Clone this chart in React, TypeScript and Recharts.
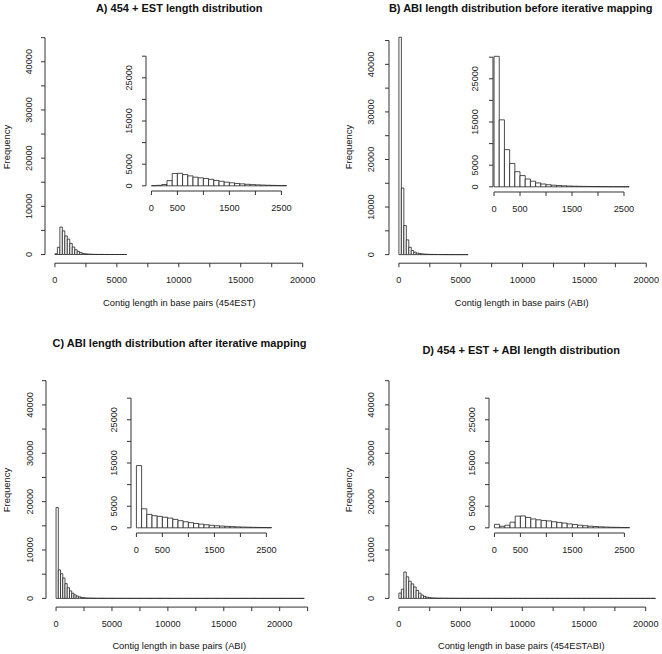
import React from 'react';
import { ComposedChart, XAxis, YAxis, ReferenceArea, ReferenceLine } from 'recharts';

// ---------- data ----------
const MAIN_BIN = 200;
const INSET_BIN = 100;

// A) 454 + EST  (main: 200 bp bins, inset: 100 bp bins)
const mainA = [150, 1500, 5700, 4900, 3850, 3200, 2300, 1550, 1000, 630, 390, 230, 140, 95, 65, 45, 32, 24, 18, 13, 10, 8, 6, 5, 4, 3, 2, 2, 1];
const insetA = [40, 110, 300, 1200, 2850, 2900, 2600, 2300, 2000, 1850, 1700, 1500, 1250, 1050, 850, 700, 550, 450, 350, 280, 220, 170, 130, 100, 80, 60];

// B) ABI before iterative mapping
const mainB = [45700, 14000, 6100, 3100, 1550, 870, 520, 340, 230, 160, 115, 85, 62, 47, 36, 28, 22, 17, 13, 10, 8, 6, 5, 4, 3, 2, 2, 1];
const insetB = [30200, 15500, 8600, 5400, 3500, 2600, 1800, 1300, 900, 650, 480, 370, 290, 230, 180, 140, 115, 95, 78, 62, 50, 40, 32, 25, 20, 16];

// C) ABI after iterative mapping
const mainC = [
  18800, 5900, 5100, 4200, 3050, 2200, 1550, 1060, 730, 490, 325, 205, 130,
  90, 68, 54, 44, 37, 31, 27, 23, 20, 18,
  16, 14, 12, 11, 10, 9, 8, 8, 7, 7,
  6, 6, 5, 5, 5, 4, 4, 4, 4, 3,
  3, 3, 3, 3, 3, 2, 2, 2, 2, 2,
  2, 2, 2, 2, 2, 1, 1, 1, 1, 1,
  1, 1, 1, 1, 1, 1, 1, 1, 1, 1,
  1, 1, 1, 1, 1, 1, 1, 1, 1, 1,
  1, 1, 1, 1, 1, 1, 1, 1, 1, 1,
  1, 1, 1, 1, 1, 1, 1, 1, 1, 1,
  1, 1, 1, 1, 1, 1, 1, 1,
];
const insetC = [14400, 4400, 3100, 2800, 2650, 2450, 2250, 1950, 1650, 1400, 1200, 1000, 850, 700, 580, 480, 400, 330, 270, 220, 180, 145, 115, 90, 72, 58];

// D) 454 + EST + ABI
const mainD = [
  1100, 1900, 5450, 4450, 3550, 3000, 2350, 1650, 1080, 680, 410, 250, 150,
  100, 72, 55, 44, 36, 30, 25, 21, 18, 16,
  14, 12, 11, 10, 9, 8, 7, 7, 6, 6,
  5, 5, 5, 4, 4, 4, 3, 3, 3, 3,
  3, 2, 2, 2, 2, 2, 2, 2, 2, 2,
  1, 1, 1, 1, 1, 1, 1, 1, 1, 1,
  1, 1, 1, 1, 1, 1, 1, 1, 1, 1,
  1, 1, 1, 1, 1, 1, 1, 1, 1, 1,
  1, 1, 1, 1, 1, 1, 1, 1, 1, 1,
  1, 1, 1, 1, 1, 1, 1, 1, 1, 1,
  1,
];
const insetD = [800, 350, 600, 1300, 2700, 2750, 2400, 2050, 1850, 1700, 1600, 1400, 1250, 1100, 900, 750, 600, 480, 380, 300, 230, 180, 140, 110, 85, 65];

// ticks
const mainXTicks = [0, 2500, 5000, 7500, 10000, 12500, 15000, 17500, 20000];
const mainXTicksC = [0, 2500, 5000, 7500, 10000, 12500, 15000, 17500, 20000, 22500];
const mainXLabels = [0, 5000, 10000, 15000, 20000];
const mainYTicks = [0, 5000, 10000, 15000, 20000, 25000, 30000, 35000, 40000, 45000];
const mainYLabels = [0, 10000, 20000, 30000, 40000];
const insetXTicks = [0, 500, 1000, 1500, 2000, 2500];
const insetXLabels = [0, 500, 1500, 2500];
const insetYTicks = [0, 5000, 10000, 15000, 20000, 25000, 30000];
const insetYLabels = [0, 5000, 15000, 25000];

const titles = [
  'A) 454 + EST length distribution',
  'B) ABI length distribution before iterative mapping',
  'C) ABI length distribution after iterative mapping',
  'D) 454 + EST + ABI length distribution',
];
const xTitles = [
  'Contig length in base pairs (454EST)',
  'Contig length in base pairs (ABI)',
  'Contig length in base pairs (ABI)',
  'Contig length in base pairs (454ESTABI)',
];
const yTitle = 'Frequency';

// ---------- styles ----------
const FONT = '"Liberation Sans", Arial, Helvetica, sans-serif';
const AXIS = '#333';
const BAR = '#222';
const TICK_FS = 9.2;

type Box = { L: number; T: number; R: number; B: number };

type HistProps = {
  counts: number[];
  binWidth: number;
  plot: Box;
  xDomain: [number, number];
  yDomain: [number, number];
  xTicks: number[];
  xLabels: number[];
  yTicks: number[];
  yLabels: number[];
  xGap: number;
  yGap: number;
};

function Hist(p: HistProps) {
  const padL = 40, padT = 6, padR = 6, padB = 30;
  const W = p.plot.R - p.plot.L + padL + padR;
  const H = p.plot.B - p.plot.T + padT + padB;
  const tickSize = 4;
  const xLast = p.xTicks[p.xTicks.length - 1];
  const yLast = p.yTicks[p.yTicks.length - 1];

  const xTick = (t: any) => {
    if (!p.xLabels.includes(t.payload.value)) return <g />;
    return (
      <text x={t.x} y={t.y + p.xGap - tickSize} textAnchor="middle" dominantBaseline="central"
        fontSize={TICK_FS} fontFamily={FONT} fill="#222">{t.payload.value}</text>
    );
  };
  const yTick = (t: any) => {
    if (!p.yLabels.includes(t.payload.value)) return <g />;
    const cx = t.x - (p.yGap - tickSize);
    return (
      <text x={cx} y={t.y} transform={`rotate(-90 ${cx} ${t.y})`} textAnchor="middle" dominantBaseline="central"
        fontSize={TICK_FS} fontFamily={FONT} fill="#222">{t.payload.value}</text>
    );
  };

  return (
    <div style={{ position: 'absolute', left: p.plot.L - padL, top: p.plot.T - padT, width: W, height: H }}>
      <ComposedChart width={W} height={H} margin={{ top: padT, right: padR, bottom: 0, left: 0 }} style={{ overflow: 'visible' }}>
        <XAxis type="number" dataKey="x" domain={p.xDomain} allowDataOverflow ticks={p.xTicks} interval={0}
          height={padB} axisLine={false} tickLine={{ stroke: AXIS, strokeWidth: 1 }} tickSize={tickSize} tickMargin={0} tick={xTick} />
        <YAxis type="number" domain={p.yDomain} allowDataOverflow ticks={p.yTicks} interval={0}
          width={padL} axisLine={false} tickLine={{ stroke: AXIS, strokeWidth: 1 }} tickSize={tickSize} tickMargin={0} tick={yTick} />
        {p.counts.map((c, i) => (
          <ReferenceArea key={i} x1={i * p.binWidth} x2={(i + 1) * p.binWidth} y1={0} y2={c}
            fill="#fff" fillOpacity={1} stroke={BAR} strokeWidth={0.8} ifOverflow="visible" />
        ))}
        <ReferenceLine segment={[{ x: p.xTicks[0], y: p.yDomain[0] }, { x: xLast, y: p.yDomain[0] }]}
          stroke={AXIS} strokeWidth={1} ifOverflow="visible" />
        <ReferenceLine segment={[{ x: p.xDomain[0], y: p.yTicks[0] }, { x: p.xDomain[0], y: yLast }]}
          stroke={AXIS} strokeWidth={1} ifOverflow="visible" />
      </ComposedChart>
    </div>
  );
}

function Txt({ x, y, children, bold, rotate, size }: any) {
  return (
    <div style={{
      position: 'absolute', left: x, top: y, whiteSpace: 'nowrap', lineHeight: 1,
      transform: `translate(-50%, -50%)${rotate ? ' rotate(-90deg)' : ''}`,
      fontFamily: FONT, fontSize: size, fontWeight: bold ? 'bold' : 'normal', color: '#111',
    }}>{children}</div>
  );
}

const MAIN_X: [number, number] = [-800, 20800];
const MAIN_X_C: [number, number] = [-900, 23400];
const MAIN_Y: [number, number] = [-1800, 46800];
const INSET_X: [number, number] = [-104, 2704];
const INSET_X_B: [number, number] = [-20, 2704];
const INSET_Y: [number, number] = [-1200, 31200];

export default function App() {
  return (
    <div style={{ position: 'absolute', left: 0, top: 0, width: 662, height: 654, background: '#fff', overflow: 'hidden' }}>
      {/* main histograms */}
      <Hist counts={mainA} binWidth={MAIN_BIN} plot={{ L: 45, T: 29.1, R: 312.6, B: 263.3 }} xDomain={MAIN_X} yDomain={MAIN_Y}
        xTicks={mainXTicks} xLabels={mainXLabels} yTicks={mainYTicks} yLabels={mainYLabels} xGap={17} yGap={16} />
      <Hist counts={mainB} binWidth={MAIN_BIN} plot={{ L: 388.7, T: 32.1, R: 655.9, B: 263.3 }} xDomain={MAIN_X} yDomain={MAIN_Y}
        xTicks={mainXTicks} xLabels={mainXLabels} yTicks={mainYTicks} yLabels={mainYLabels} xGap={17} yGap={18} />
      <Hist counts={mainC} binWidth={MAIN_BIN} plot={{ L: 45.7, T: 371.9, R: 317.4, B: 607 }} xDomain={MAIN_X_C} yDomain={MAIN_Y}
        xTicks={mainXTicksC} xLabels={mainXLabels} yTicks={mainYTicks} yLabels={mainYLabels} xGap={17} yGap={16} />
      <Hist counts={mainD} binWidth={MAIN_BIN} plot={{ L: 389.3, T: 371.9, R: 655.9, B: 607 }} xDomain={MAIN_X} yDomain={MAIN_Y}
        xTicks={mainXTicks} xLabels={mainXLabels} yTicks={mainYTicks} yLabels={mainYLabels} xGap={17} yGap={18} />

      {/* insets */}
      <Hist counts={insetA} binWidth={INSET_BIN} plot={{ L: 146.3, T: 50.5, R: 292.3, B: 190.5 }} xDomain={INSET_X} yDomain={INSET_Y}
        xTicks={insetXTicks} xLabels={insetXLabels} yTicks={insetYTicks} yLabels={insetYLabels} xGap={17} yGap={17} />
      <Hist counts={insetB} binWidth={INSET_BIN} plot={{ L: 493.3, T: 51.9, R: 634.9, B: 191.9 }} xDomain={INSET_X_B} yDomain={INSET_Y}
        xTicks={insetXTicks} xLabels={insetXLabels} yTicks={insetYTicks} yLabels={insetYLabels} xGap={17} yGap={18} />
      <Hist counts={insetC} binWidth={INSET_BIN} plot={{ L: 130.6, T: 392.5, R: 276.6, B: 532.5 }} xDomain={INSET_X} yDomain={INSET_Y}
        xTicks={insetXTicks} xLabels={insetXLabels} yTicks={insetYTicks} yLabels={insetYLabels} xGap={17} yGap={17} />
      <Hist counts={insetD} binWidth={INSET_BIN} plot={{ L: 488.9, T: 392.5, R: 634.9, B: 532.5 }} xDomain={INSET_X} yDomain={INSET_Y}
        xTicks={insetXTicks} xLabels={insetXLabels} yTicks={insetYTicks} yLabels={insetYLabels} xGap={17} yGap={17} />

      {/* titles */}
      <Txt x={179.2} y={7.5} bold size={11}>{titles[0]}</Txt>
      <Txt x={520.7} y={7.5} bold size={11}>{titles[1]}</Txt>
      <Txt x={179.5} y={343} bold size={11}>{titles[2]}</Txt>
      <Txt x={521.2} y={349.7} bold size={11}>{titles[3]}</Txt>

      {/* y titles */}
      <Txt x={7.3} y={146.7} rotate size={9.4}>{yTitle}</Txt>
      <Txt x={349.3} y={146.7} rotate size={9.4}>{yTitle}</Txt>
      <Txt x={7.3} y={489.7} rotate size={9.4}>{yTitle}</Txt>
      <Txt x={349.3} y={490.3} rotate size={9.4}>{yTitle}</Txt>

      {/* x titles */}
      <Txt x={179.3} y={304} size={9.3}>{xTitles[0]}</Txt>
      <Txt x={521.7} y={304} size={9.3}>{xTitles[1]}</Txt>
      <Txt x={179.3} y={647} size={9.3}>{xTitles[2]}</Txt>
      <Txt x={521.3} y={647} size={9.3}>{xTitles[3]}</Txt>
    </div>
  );
}
